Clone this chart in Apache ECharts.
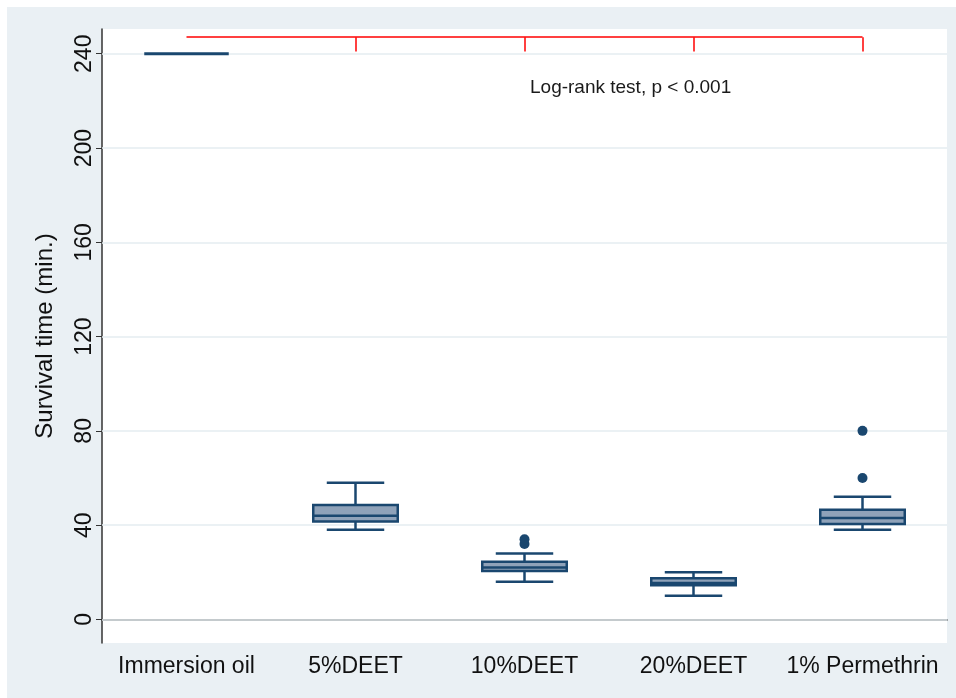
<!DOCTYPE html>
<html>
<head>
<meta charset="utf-8">
<title>Survival time</title>
<script src="https://cdn.jsdelivr.net/npm/echarts@6/dist/echarts.min.js"></script>
<style>
  html, body { margin: 0; padding: 0; background: #fff; }
  #chart { position: absolute; left: 7px; top: 7px; width: 949px; height: 691px; }
</style>
</head>
<body>
<div id="chart"></div>
<script>
// groups on the x axis
var categories = ['Immersion oil', '5%DEET', '10%DEET', '20%DEET', '1% Permethrin'];
// box stats: [lower whisker, q1, median, q3, upper whisker]
var boxStats = [
  [240, 240, 240, 240, 240],
  [38, 41.5, 44, 48.5, 58],
  [16, 20.5, 22, 24.5, 28],
  [10, 14.5, 15.5, 17.5, 20],
  [38, 40.5, 43, 46.5, 52]
];
// outside values: [category index, minutes]
var outliers = [
  [2, 32], [2, 34],
  [4, 60], [4, 80]
];
var yTicks = [0, 40, 80, 120, 160, 200, 240];
// red bracket from the first group to the others
var bracketTop = 247;
var bracketBottom = 241;

var navy = '#1a476f';
var boxFill = '#8fa2b9';
var font = 'Liberation Sans, Arial, sans-serif';

var bracketLines = [{ coords: [[0, bracketTop], [categories.length - 1, bracketTop]] }];
for (var i = 1; i < categories.length; i++) {
  bracketLines.push({ coords: [[i, bracketTop], [i, bracketBottom]] });
}

var chart = echarts.init(document.getElementById('chart'));
chart.setOption({
  backgroundColor: '#eaf0f4',
  animation: false,
  textStyle: { fontFamily: font },
  grid: {
    left: 95, top: 22, width: 845, height: 614,
    show: true, backgroundColor: '#fff', borderWidth: 0
  },
  xAxis: {
    type: 'category',
    data: categories,
    boundaryGap: true,
    axisLine: { lineStyle: { color: '#333', width: 1.5 } },
    axisTick: { show: false },
    axisLabel: { interval: 0, color: '#111', fontSize: 23, margin: 12, fontFamily: font },
    splitLine: { show: false }
  },
  yAxis: {
    type: 'value',
    min: -10,
    max: 250.5,
    name: 'Survival time (min.)',
    nameLocation: 'middle',
    nameRotate: 90,
    nameGap: 45,
    nameTextStyle: { color: '#111', fontSize: 24, fontFamily: font },
    axisLine: { show: true, lineStyle: { color: '#333', width: 1.5 } },
    axisTick: { show: true, length: 6, customValues: yTicks, lineStyle: { color: '#333' } },
    axisLabel: {
      customValues: yTicks, rotate: 90, color: '#111', fontSize: 23, margin: 6, fontFamily: font
    },
    splitLine: { show: false }
  },
  graphic: [{
    type: 'text',
    left: 523,
    top: 71,
    style: { text: 'Log-rank test, p < 0.001', fill: '#1a1a1a', font: '19px ' + font }
  }],
  series: [
    {
      // grid lines at the labelled ticks
      type: 'line',
      z: 1,
      data: [],
      markLine: {
        z: 1,
        silent: true,
        symbol: 'none',
        label: { show: false },
        lineStyle: { color: '#e5ecf1', width: 1.5, type: 'solid' },
        data: yTicks.map(function (v) { return { yAxis: v }; })
      }
    },
    {
      type: 'custom',
      z: 3,
      data: boxStats.map(function (s, i) { return [i].concat(s); }),
      encode: { x: 0, y: [1, 2, 3, 4, 5] },
      renderItem: function (params, api) {
        var idx = api.value(0);
        var band = api.size([1, 0])[0];
        var hw = band * 0.25;
        var cw = band * 0.17;
        var lo = api.coord([idx, api.value(1)]);
        var q1 = api.coord([idx, api.value(2)]);
        var md = api.coord([idx, api.value(3)]);
        var q3 = api.coord([idx, api.value(4)]);
        var hi = api.coord([idx, api.value(5)]);
        var x = md[0];
        var stroke = { stroke: navy, lineWidth: 2.5, fill: null };
        if (q1[1] - q3[1] < 1) {
          // all values equal: one flat bar at the box width
          return {
            type: 'line',
            shape: { x1: x - hw, y1: md[1], x2: x + hw, y2: md[1] },
            style: { stroke: navy, lineWidth: 3 }
          };
        }
        return {
          type: 'group',
          children: [
            { type: 'line', shape: { x1: x, y1: hi[1], x2: x, y2: q3[1] }, style: stroke },
            { type: 'line', shape: { x1: x, y1: q1[1], x2: x, y2: lo[1] }, style: stroke },
            { type: 'line', shape: { x1: x - cw, y1: hi[1], x2: x + cw, y2: hi[1] }, style: stroke },
            { type: 'line', shape: { x1: x - cw, y1: lo[1], x2: x + cw, y2: lo[1] }, style: stroke },
            {
              type: 'rect',
              shape: { x: x - hw, y: q3[1], width: hw * 2, height: q1[1] - q3[1] },
              style: { fill: boxFill, stroke: navy, lineWidth: 2.5 }
            },
            { type: 'line', shape: { x1: x - hw, y1: md[1], x2: x + hw, y2: md[1] }, style: stroke }
          ]
        };
      }
    },
    {
      type: 'scatter',
      z: 4,
      data: outliers,
      symbol: 'circle',
      symbolSize: 10,
      itemStyle: { color: navy, opacity: 1 }
    },
    {
      type: 'lines',
      z: 4,
      coordinateSystem: 'cartesian2d',
      data: bracketLines,
      lineStyle: { color: '#ff0000', width: 1.5, opacity: 1 },
      silent: true
    }
  ]
});
</script>
</body>
</html>
